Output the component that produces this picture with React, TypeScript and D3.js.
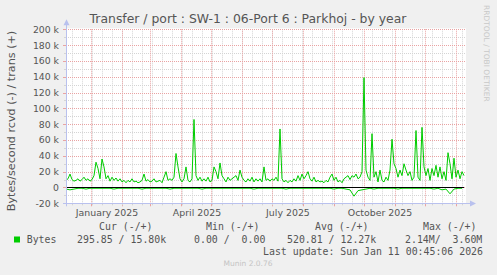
import React from "react";
import * as d3 from "d3";

// ---- data (k bytes/s), sampled every 2 days from start ----
const transK = [
  9, 11, 17, 10, 8, 9, 11, 8, 10, 13,
  9, 11, 8, 10, 15, 32, 24, 11, 36, 26,
  11, 15, 8, 13, 9, 12, 8, 11, 7, 9,
  6, 9, 7, 11, 7, 8, 6, 7, 9, 17,
  8, 10, 7, 8, 11, 7, 8, 9, 6, 13,
  20, 9, 11, 9, 13, 43, 26, 11, 7, 11,
  26, 9, 7, 11, 86, 15, 9, 13, 8, 11,
  8, 13, 7, 9, 26, 20, 11, 31, 15, 11,
  7, 13, 9, 11, 13, 15, 9, 22, 13, 9,
  7, 11, 8, 13, 7, 11, 8, 11, 7, 26,
  9, 11, 8, 11, 9, 13, 8, 74, 11, 7,
  9, 6, 9, 7, 11, 8, 15, 9, 17, 11,
  15, 20, 11, 8, 13, 7, 9, 7, 8, 6,
  9, 7, 13, 17, 9, 13, 7, 9, 6, 11,
  13, 15, 10, 15, 13, 17, 11, 13, 20, 139,
  22, 13, 9, 68, 13, 20, 7, 22, 9, 7,
  13, 9, 22, 61, 30, 24, 13, 22, 15, 30,
  22, 15, 20, 9, 13, 72, 13, 9, 76, 26,
  15, 24, 9, 24, 15, 28, 13, 26, 11, 20,
  9, 44, 30, 11, 37, 13, 22, 11, 20, 15,
];
// received (negative), sampled every 4 days
const rcvdK = [
  -2, -3, -2, -1, -1, -2, -1, -1, -1, -1,
  -1, -1, -2, -1, -1, -1, -1, -1, -1, -2,
  -1, -1, -1, -1, -1, -1, -2, -1, -1, -1,
  -1, -1, -1, -1, -2, -1, -1, -1, -1, -1,
  -1, -1, -1, -1, -1, -1, -1, -2, -1, -1,
  -1, -1, -1, -1, -1, -2, -1, -1, -1, -1,
  -1, -1, -1, -1, -1, -1, -1, -2, -1, -1,
  -2, -3, -11, -4, -3, -2, -1, -2, -1, -1,
  -1, -1, -1, -2, -1, -1, -1, -1, -1, -1,
  -1, -1, -2, -1, -3, -2, -8, -2, -1, -1,
];
const yTicksMajor = [-20000, 0, 20000, 40000, 60000, 80000, 100000, 120000, 140000, 160000, 180000, 200000];
const quarterLabels = ["January 2025", "April 2025", "July 2025", "October 2025"];
const legendHeaders = ["Cur (-/+)", "Min (-/+)", "Avg (-/+)", "Max (-/+)"];
const legendValues = ["295.85 / 15.80k", "0.00 /  0.00", "520.81 / 12.27k", "2.14M/  3.60M"];

const DAY = 864e5;
const START = Date.UTC(2024, 11, 7, 0, 45);
const END = Date.UTC(2026, 0, 11, 0, 45);

const W = 497, H = 275;
const PL = 66, PR = 466, PT = 29.3, PB = 203.3;

export default function App() {
  const x = d3.scaleUtc().domain([new Date(START), new Date(END)]).range([PL, PR]);
  const y = d3.scaleLinear().domain([-20000, 200000]).range([PB, PT]);

  const transPts = transK.map((v, i) => [new Date(START + i * 2 * DAY), v * 1000] as [Date, number]);
  const rcvdPts = rcvdK.map((v, i) => [new Date(START + i * 4 * DAY), v * 1000] as [Date, number]);
  const line = d3.line<[Date, number]>().x((d) => x(d[0])).y((d) => y(d[1]));

  const months = d3.utcMonth.range(new Date(START), new Date(END));
  const minorDays: Date[] = [];
  const d0 = Math.ceil(START / DAY / 10) * 10;
  for (let d = d0; d * DAY <= END; d += 10) minorDays.push(new Date(d * DAY));
  const minorY = yTicksMajor.slice(0, -1).map((v) => v + 10000);
  const quarters = months.filter((m) => m.getUTCMonth() % 3 === 0);

  const majorC = "#e9a3a3";
  const minorC = "#d4d4d4";
  const axisC = "#b9c1ee";
  const mono = "'DejaVu Sans Mono', monospace";
  const sans = "'DejaVu Sans', sans-serif";
  const legendX = [99, 206, 315, 423];
  const valueX = [77, 194, 287, 405];

  return (
    <svg width={W} height={H} style={{ position: "absolute", left: 0, top: 0 }} fontFamily={sans}>
      <rect x={0} y={0} width={W} height={H} fill="#f0f0f0" />
      <rect x={PL} y={PT - 1} width={PR - PL} height={PB - PT + 1} fill="#ffffff" />
      {/* minor grid */}
      <g stroke={minorC} strokeWidth={1} strokeDasharray="1,1">
        {minorDays.map((d, i) => (
          <line key={"mv" + i} x1={Math.round(x(d)) + 0.5} x2={Math.round(x(d)) + 0.5} y1={PT} y2={PB} />
        ))}
        {minorY.map((v) => (
          <line key={"mh" + v} x1={PL} x2={PR} y1={Math.round(y(v)) + 0.5} y2={Math.round(y(v)) + 0.5} />
        ))}
      </g>
      {/* major grid */}
      <g stroke={majorC} strokeWidth={1} strokeDasharray="1,1">
        {months.map((d, i) => (
          <line key={"Mv" + i} x1={Math.round(x(d)) + 0.5} x2={Math.round(x(d)) + 0.5} y1={PT} y2={PB} />
        ))}
        {yTicksMajor.map((v) => (
          <line key={"Mh" + v} x1={PL} x2={PR} y1={Math.round(y(v)) + 0.5} y2={Math.round(y(v)) + 0.5} />
        ))}
      </g>
      {/* ticks on axes */}
      <g strokeWidth={1}>
        {yTicksMajor.map((v) => (
          <line key={"yt" + v} x1={PL - 3} x2={PL} y1={Math.round(y(v)) + 0.5} y2={Math.round(y(v)) + 0.5} stroke={majorC} />
        ))}
        {minorY.map((v) => (
          <line key={"ytm" + v} x1={PL - 2} x2={PL} y1={Math.round(y(v)) + 0.5} y2={Math.round(y(v)) + 0.5} stroke={minorC} />
        ))}
        {months.map((d, i) => (
          <line key={"xt" + i} x1={Math.round(x(d)) + 0.5} x2={Math.round(x(d)) + 0.5} y1={PB} y2={PB + 3} stroke={majorC} />
        ))}
        {minorDays.map((d, i) => (
          <line key={"xtm" + i} x1={Math.round(x(d)) + 0.5} x2={Math.round(x(d)) + 0.5} y1={PB} y2={PB + 2} stroke={minorC} />
        ))}
      </g>
      {/* data */}
      <path d={line(rcvdPts) ?? ""} fill="none" stroke="#00cc00" strokeWidth={1} />
      <path d={line(transPts) ?? ""} fill="none" stroke="#00cc00" strokeWidth={1} />
      <line x1={PL} x2={x(transPts[transPts.length - 1][0])} y1={y(0)} y2={y(0)} stroke="#000" strokeWidth={1.2} />
      {/* axes */}
      <line x1={PL + 0.5} x2={PL + 0.5} y1={PB + 3} y2={PT - 5} stroke={axisC} />
      <path d={`M${PL - 2.5},${PT - 4} L${PL + 3.5},${PT - 4} L${PL + 0.5},${PT - 10} Z`} fill={axisC} />
      <line x1={PL - 3} x2={PR + 4} y1={Math.round(PB) + 0.5} y2={Math.round(PB) + 0.5} stroke={axisC} />
      <path d={`M${PR + 4},${Math.round(PB) - 2.5} L${PR + 4},${Math.round(PB) + 3.5} L${PR + 10},${Math.round(PB) + 0.5} Z`} fill={axisC} />
      {/* y tick labels */}
      <g fontSize={9.3} fill="#555" textAnchor="end">
        {yTicksMajor.map((v) => (
          <text key={"yl" + v} x={PL - 7} y={y(v) + 3.4}>
            {v === 0 ? "0" : `${v / 1000} k`}
          </text>
        ))}
      </g>
      {/* x labels */}
      <g fontSize={9.4} fill="#555" textAnchor="middle">
        {quarters.map((m, i) => (
          <text key={"xl" + i} x={x(new Date(m.getTime() + 16 * DAY))} y={216}>
            {quarterLabels[i]}
          </text>
        ))}
      </g>
      {/* titles */}
      <text x={248} y={23} fontSize={12.4} fill="#555" textAnchor="middle">
        Transfer / port : SW-1 : 06-Port 6 : Parkhoj - by year
      </text>
      <text transform="translate(15,121) rotate(-90)" fontSize={11.2} fill="#555" textAnchor="middle">
        Bytes/second rcvd (-) / trans (+)
      </text>
      <text transform="translate(484,5) rotate(90)" fontSize={7.5} fill="#c8c8c8" textAnchor="start">
        RRDTOOL / TOBI OETIKER
      </text>
      {/* legend */}
      <g fontFamily={mono} fontSize={9.9} fill="#555">
        {legendHeaders.map((t, i) => (
          <text key={"lh" + i} x={legendX[i]} y={230} xmlSpace="preserve" style={{ whiteSpace: "pre" }}>
            {t}
          </text>
        ))}
        <rect x={14} y={236.5} width={6} height={6} fill="#00cc00" />
        <text x={26.7} y={242.6}>Bytes</text>
        {legendValues.map((t, i) => (
          <text key={"lv" + i} x={valueX[i]} y={242.6} style={{ whiteSpace: "pre" }}>
            {t}
          </text>
        ))}
        <text x={483} y={254.5} textAnchor="end" style={{ whiteSpace: "pre" }}>
          Last update: Sun Jan 11 00:45:06 2026
        </text>
      </g>
      <text x={248} y={266} fontSize={7.5} fill="#c4c4c4" textAnchor="middle">
        Munin 2.0.76
      </text>
    </svg>
  );
}
